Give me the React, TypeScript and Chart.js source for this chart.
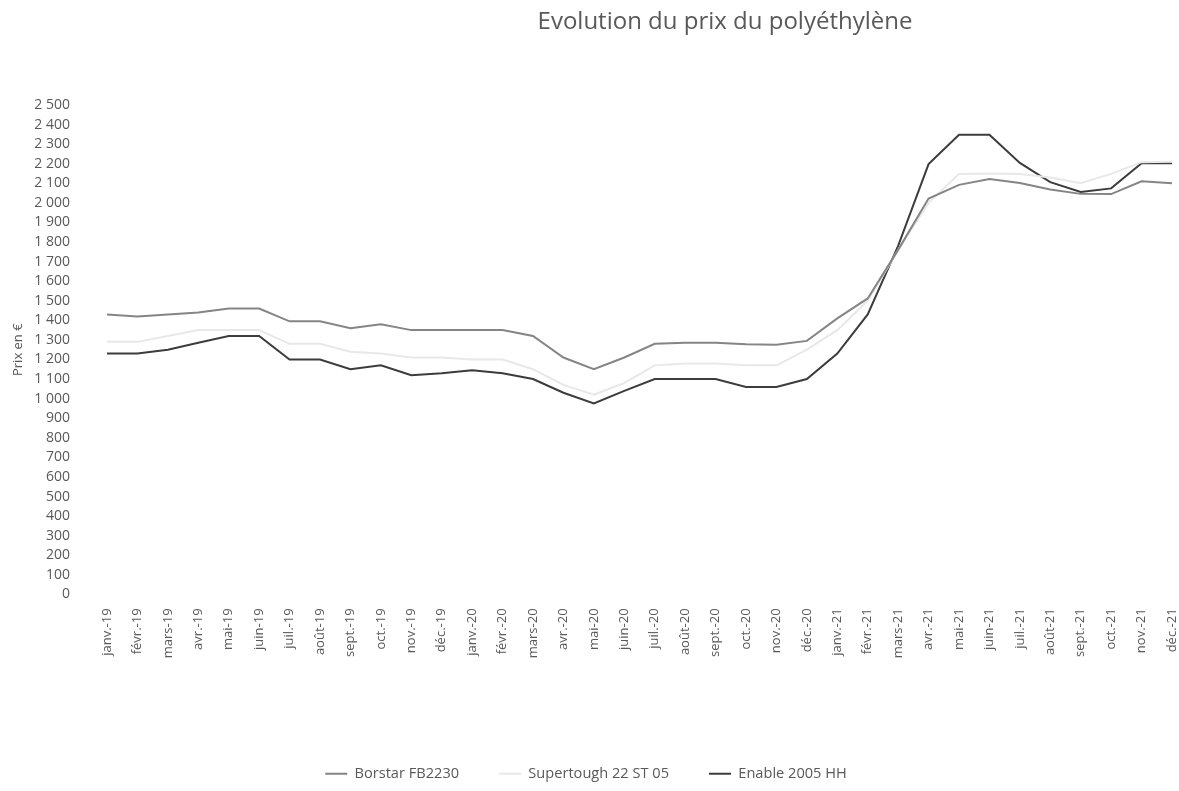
import React, { useEffect, useRef } from "react";
import { Chart, registerables } from "chart.js";

Chart.register(...registerables);

const TITLE = "Evolution du prix du polyéthylène";
const Y_TITLE = "Prix en €";

const categories = [
  "janv.-19", "févr.-19", "mars-19", "avr.-19", "mai-19", "juin-19",
  "juil.-19", "août-19", "sept.-19", "oct.-19", "nov.-19", "déc.-19",
  "janv.-20", "févr.-20", "mars-20", "avr.-20", "mai-20", "juin-20",
  "juil.-20", "août-20", "sept.-20", "oct.-20", "nov.-20", "déc.-20",
  "janv.-21", "févr.-21", "mars-21", "avr.-21", "mai-21", "juin-21",
  "juil.-21", "août-21", "sept.-21", "oct.-21", "nov.-21", "déc.-21",
];

const borstar = [
  1430, 1420, 1430, 1440, 1460, 1460, 1395, 1395, 1360, 1380, 1350, 1350,
  1350, 1350, 1320, 1210, 1150, 1210, 1280, 1285, 1285, 1278, 1275, 1295,
  1410, 1512, 1760, 2022, 2092, 2122, 2102, 2068, 2046, 2045, 2110, 2100,
];

const supertough = [
  1290, 1290, 1320, 1350, 1350, 1350, 1280, 1280, 1240, 1230, 1210, 1210,
  1200, 1200, 1150, 1070, 1020, 1080, 1170, 1180, 1180, 1170, 1170, 1250,
  1350, 1500, 1760, 2000, 2148, 2150, 2148, 2130, 2100, 2148, 2208, 2210,
];

const enable = [
  1230, 1230, 1250, 1285, 1320, 1320, 1200, 1200, 1150, 1170, 1120, 1130,
  1145, 1130, 1100, 1030, 975, 1040, 1100, 1100, 1100, 1060, 1060, 1100,
  1230, 1430, 1780, 2198, 2348, 2348, 2204, 2106, 2056, 2074, 2202, 2202,
];

const seriesNames = ["Borstar FB2230", "Supertough 22 ST 05", "Enable 2005 HH"];

const formatTick = (v: number) => {
  if (v >= 1000) {
    return `${Math.floor(v / 1000)} ${String(v % 1000).padStart(3, "0")}`;
  }
  return String(v);
};

export default function App() {
  const ref = useRef<HTMLCanvasElement | null>(null);

  useEffect(() => {
    if (!ref.current) return;
    const font = "'Open Sans', 'DejaVu Sans', sans-serif";
    const titlePlugin = {
      id: "customTitle",
      afterDraw(chart: any) {
        const ctx = chart.ctx;
        ctx.save();
        ctx.font = `24px ${font}`;
        ctx.fillStyle = "#595959";
        ctx.textAlign = "center";
        ctx.textBaseline = "middle";
        ctx.fillText(TITLE, 725, 22);
        ctx.restore();
      },
    };
    const chart = new Chart(ref.current, {
      type: "line",
      data: {
        labels: categories,
        datasets: [
          { label: seriesNames[0], data: borstar, borderColor: "#858585", backgroundColor: "#858585", borderWidth: 2 },
          { label: seriesNames[1], data: supertough, borderColor: "#e8e8e8", backgroundColor: "#e8e8e8", borderWidth: 2 },
          { label: seriesNames[2], data: enable, borderColor: "#3c3c3c", backgroundColor: "#3c3c3c", borderWidth: 2 },
        ],
      },
      options: {
        animation: false,
        responsive: false,
        maintainAspectRatio: false,
        elements: { point: { radius: 0 }, line: { tension: 0 } },
        layout: { padding: { left: 0, right: 7, top: 105, bottom: 0 } },
        plugins: {
          title: { display: false },
          tooltip: { enabled: false },
          legend: {
            position: "bottom",
            labels: {
              usePointStyle: true,
              pointStyleWidth: 22,
              pointStyle: "line",
              color: "#595959",
              font: { family: font, size: 14.6 },
              padding: 40,
            },
          },
        },
        scales: {
          x: {
            offset: false,
            grid: { display: false },
            border: { display: false },
            ticks: {
              autoSkip: false,
              maxRotation: 90,
              minRotation: 90,
              color: "#595959",
              font: { family: font, size: 13 },
              padding: 6,
            },
            afterFit: (scale: any) => {
              scale.height = 132;
              scale.paddingRight = 0;
              scale.paddingLeft = 0;
            },
          },
          y: {
            min: 0,
            max: 2500,
            grid: { display: false },
            border: { display: false },
            ticks: {
              stepSize: 100,
              autoSkip: false,
              color: "#595959",
              font: { family: font, size: 14 },
              padding: 29,
              callback: (v: any) => formatTick(Number(v)),
            },
            title: {
              display: true,
              text: Y_TITLE,
              color: "#595959",
              font: { family: font, size: 13 },
              padding: { top: 10, bottom: 0 },
            },
            afterFit: (scale: any) => {
              scale.width = 107;
            },
          },
        },
      },
      plugins: [titlePlugin],
    });
    return () => chart.destroy();
  }, []);

  return (
    <div style={{ position: "fixed", left: 0, top: 0, width: 1179, height: 791, background: "#fff" }}>
      <canvas ref={ref} width={1179} height={791} style={{ width: 1179, height: 791 }} />
    </div>
  );
}
